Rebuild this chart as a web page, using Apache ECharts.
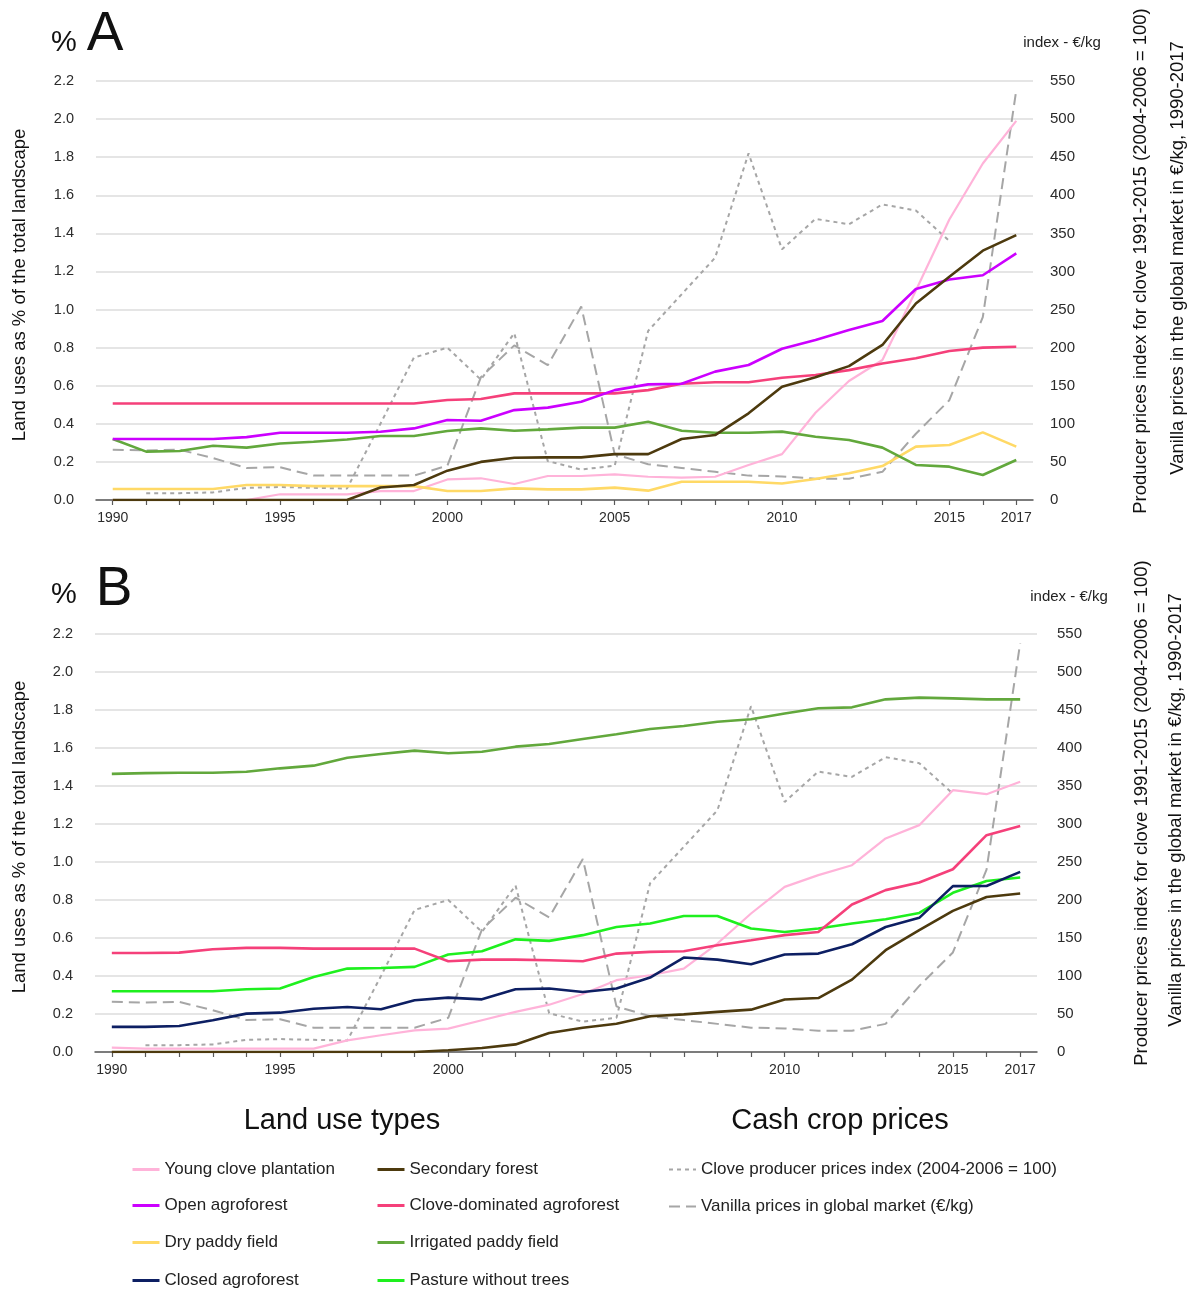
<!DOCTYPE html>
<html>
<head>
<meta charset="utf-8">
<title>Land uses and cash crop prices, 1990-2017</title>
<script src="https://cdn.jsdelivr.net/npm/echarts@6/dist/echarts.min.js"></script>
<style>
  html, body { margin: 0; padding: 0; background: #ffffff; }
  #chart { width: 1193px; height: 1289px; }
</style>
</head>
<body>
<div id="chart"></div>
<script>
// ---------- data ----------
const years = [1990,1991,1992,1993,1994,1995,1996,1997,1998,1999,2000,2001,2002,2003,2004,2005,2006,2007,2008,2009,2010,2011,2012,2013,2014,2015,2016,2017];
const yearLabels = [1990,1995,2000,2005,2010,2015,2017];
const cloveIndexYears = [1991,1992,1993,1994,1995,1996,1997,1998,1999,2000,2001,2002,2003,2004,2005,2006,2007,2008,2009,2010,2011,2012,2013,2014,2015];

// Panel A: land uses, % of the total landscape
const youngCloveA   = [0,0,0,0,0,0.03,0.03,0.03,0.047,0.047,0.108,0.114,0.084,0.126,0.126,0.135,0.122,0.117,0.122,0.184,0.241,0.458,0.625,0.735,1.10,1.473,1.767,1.991];
const openAgroA     = [0.32,0.32,0.32,0.32,0.33,0.353,0.353,0.353,0.358,0.376,0.42,0.416,0.472,0.485,0.516,0.577,0.607,0.61,0.674,0.709,0.794,0.84,0.892,0.94,1.108,1.158,1.18,1.295];
const dryPaddyA     = [0.058,0.058,0.058,0.058,0.079,0.079,0.073,0.073,0.073,0.073,0.047,0.047,0.061,0.056,0.056,0.065,0.049,0.096,0.096,0.096,0.087,0.11,0.14,0.178,0.28,0.289,0.355,0.28];
const secondaryA    = [0,0,0,0,0,0,0,0,0.066,0.079,0.154,0.20,0.222,0.224,0.224,0.241,0.241,0.32,0.341,0.455,0.595,0.644,0.703,0.814,1.032,1.172,1.309,1.391];
const cloveDomA     = [0.507,0.507,0.507,0.507,0.507,0.507,0.507,0.507,0.507,0.507,0.525,0.53,0.56,0.56,0.56,0.56,0.577,0.61,0.618,0.618,0.642,0.656,0.682,0.717,0.744,0.782,0.80,0.805];
const irrigatedA    = [0.32,0.254,0.257,0.285,0.275,0.297,0.306,0.318,0.336,0.336,0.362,0.376,0.364,0.371,0.38,0.38,0.411,0.364,0.353,0.353,0.359,0.332,0.315,0.275,0.184,0.175,0.131,0.21];

// Panel B: land uses, % of the total landscape
const youngCloveB   = [0.023,0.018,0.018,0.018,0.018,0.018,0.018,0.061,0.088,0.114,0.123,0.167,0.211,0.249,0.305,0.378,0.404,0.439,0.571,0.729,0.869,0.931,0.983,1.124,1.194,1.378,1.357,1.422];
const closedAgroB   = [0.132,0.132,0.137,0.167,0.202,0.207,0.228,0.237,0.225,0.272,0.286,0.277,0.33,0.334,0.316,0.334,0.392,0.497,0.486,0.462,0.513,0.518,0.567,0.658,0.706,0.873,0.874,0.948];
const secondaryB    = [0,0,0,0,0,0,0,0,0,0,0.009,0.021,0.04,0.10,0.128,0.149,0.188,0.198,0.211,0.223,0.276,0.284,0.381,0.536,0.641,0.743,0.816,0.834];
const cloveDomB     = [0.521,0.521,0.523,0.541,0.548,0.548,0.544,0.544,0.544,0.544,0.478,0.486,0.486,0.483,0.478,0.518,0.527,0.53,0.562,0.588,0.615,0.632,0.776,0.852,0.892,0.962,1.141,1.189];
const irrigatedB    = [1.464,1.468,1.47,1.47,1.475,1.493,1.507,1.549,1.568,1.586,1.572,1.58,1.607,1.621,1.647,1.672,1.70,1.716,1.738,1.751,1.782,1.809,1.814,1.856,1.865,1.861,1.856,1.856];
const pastureB      = [0.32,0.32,0.32,0.32,0.33,0.334,0.395,0.439,0.442,0.448,0.513,0.53,0.593,0.585,0.615,0.658,0.676,0.716,0.716,0.65,0.632,0.65,0.676,0.699,0.732,0.838,0.90,0.918];

// Cash crop prices (right axis)
const cloveIndex    = [9,9,10,16,17,16,15,100,187,200,158,219,51,40,45,222,270,318,455,329,369,362,388,380,340];
const vanillaPrice  = [66,65,66,55,42,43,32,32,32,32,45,161,203,177,254,60,47,42,37,32,31,28,28,37,87,131,240,538];

const leftTicks = [0,0.2,0.4,0.6,0.8,1.0,1.2,1.4,1.6,1.8,2.0,2.2];
const rightTicks = [0,50,100,150,200,250,300,350,400,450,500,550];

// ---------- styling ----------
const FONT = "'Liberation Sans', Arial, Helvetica, sans-serif";
const CLOVE_NAME = 'Clove producer prices index (2004-2006 = 100)';
const VANILLA_NAME = 'Vanilla prices in global market (€/kg)';
const COLORS = {
  'Young clove plantation': '#ffb3d9',
  'Open agroforest': '#cc00ff',
  'Dry paddy field': '#ffd966',
  'Closed agroforest': '#0d1f63',
  'Secondary forest': '#4d3a0e',
  'Clove-dominated agroforest': '#f5407a',
  'Irrigated paddy field': '#62a83c',
  'Pasture without trees': '#1ef01e',
  [CLOVE_NAME]: '#a6a6a6',
  [VANILLA_NAME]: '#a6a6a6'
};

const pairs = (xs, ys) => xs.map((x, i) => [x, ys[i]]);

function landSeries(name, values, panel, width) {
  return {
    type: 'line', name,
    xAxisIndex: panel, yAxisIndex: panel * 2,
    data: pairs(years, values),
    symbol: 'none', silent: true, z: 3,
    lineStyle: { color: COLORS[name], width: width || 2.6 },
    itemStyle: { color: COLORS[name] }
  };
}
function priceSeries(name, xs, values, panel, dash) {
  return {
    type: 'line', name,
    xAxisIndex: panel, yAxisIndex: panel * 2 + 1,
    data: pairs(xs, values),
    symbol: 'none', silent: true, z: 2,
    lineStyle: { color: COLORS[name], width: 2, type: dash },
    itemStyle: { color: COLORS[name] }
  };
}

function xAxisFor(gridIndex) {
  return {
    type: 'value', gridIndex, min: 1989.5, max: 2017.5,
    splitLine: { show: false },
    axisLine: { show: true, onZero: false, lineStyle: { color: '#595959', width: 1.5 } },
    axisTick: { show: true, length: 5, customValues: years, lineStyle: { color: '#595959', width: 1.2 } },
    axisLabel: { customValues: yearLabels, formatter: v => String(v), color: '#2b2b2b', fontSize: 14, fontFamily: FONT, margin: 11 }
  };
}
function leftAxisFor(gridIndex) {
  return {
    type: 'value', gridIndex, position: 'left', min: leftTicks[0], max: leftTicks[leftTicks.length - 1], interval: 0.2,
    axisLine: { show: false }, axisTick: { show: false },
    splitLine: { show: true, lineStyle: { color: '#dcdcdc', width: 1.5 } },
    axisLabel: { formatter: v => v.toFixed(1), color: '#2b2b2b', fontSize: 14.5, fontFamily: FONT, margin: 22 }
  };
}
function rightAxisFor(gridIndex, margin) {
  return {
    type: 'value', gridIndex, position: 'right', min: rightTicks[0], max: rightTicks[rightTicks.length - 1], interval: 50,
    axisLine: { show: false }, axisTick: { show: false }, splitLine: { show: false },
    axisLabel: { color: '#2b2b2b', fontSize: 15, fontFamily: FONT, margin }
  };
}

// legend layout: column x, row centre y
const legendLayout = [
  ['Young clove plantation', 131, 1170],
  ['Open agroforest', 131, 1206],
  ['Dry paddy field', 131, 1243],
  ['Closed agroforest', 131, 1281],
  ['Secondary forest', 376, 1170],
  ['Clove-dominated agroforest', 376, 1206],
  ['Irrigated paddy field', 376, 1243],
  ['Pasture without trees', 376, 1281],
  [CLOVE_NAME, 668, 1170],
  [VANILLA_NAME, 668, 1207]
];

function textEl(text, x, y, size, opts) {
  opts = opts || {};
  return {
    type: 'text', x, y, rotation: opts.rotation || 0, silent: true,
    style: {
      text, fill: opts.color || '#111', font: size + 'px ' + FONT,
      align: 'center', verticalAlign: 'middle'
    }
  };
}

const dy = 552; // vertical offset of panel B's decorations
const graphics = [
  textEl('%', 64, 43, 29), textEl('A', 105, 35, 55),
  textEl('%', 64, 43 + dy, 29), textEl('B', 114, 590, 55),
  textEl('index - €/kg', 1062, 43, 15, { color: '#222' }),
  textEl('index - €/kg', 1069, 597, 15, { color: '#222' }),
  textEl('Land uses as % of the total landscape', 20, 285, 18.5, { rotation: Math.PI / 2 }),
  textEl('Land uses as % of the total landscape', 20, 285 + dy, 18.5, { rotation: Math.PI / 2 }),
  textEl('Producer prices index for clove 1991-2015 (2004-2006 = 100)', 1141, 261, 18.5, { rotation: Math.PI / 2 }),
  textEl('Vanilla prices in the global market in €/kg, 1990-2017', 1178, 258, 18.5, { rotation: Math.PI / 2 }),
  textEl('Producer prices index for clove 1991-2015 (2004-2006 = 100)', 1142, 261 + dy, 18.5, { rotation: Math.PI / 2 }),
  textEl('Vanilla prices in the global market in €/kg, 1990-2017', 1176, 258 + dy, 18.5, { rotation: Math.PI / 2 }),
  textEl('Land use types', 342, 1121, 29),
  textEl('Cash crop prices', 840, 1121, 29)
];

const option = {
  animation: false,
  backgroundColor: '#ffffff',
  textStyle: { fontFamily: FONT },
  grid: [
    { left: 96, top: 81, width: 937, height: 419, containLabel: false },
    { left: 95, top: 634, width: 942, height: 418, containLabel: false }
  ],
  xAxis: [xAxisFor(0), xAxisFor(1)],
  yAxis: [leftAxisFor(0), rightAxisFor(0, 17), leftAxisFor(1), rightAxisFor(1, 20)],
  legend: legendLayout.map(([name, x, y]) => ({
    data: [name], left: x, top: y - 9, padding: 0,
    itemWidth: 27, itemHeight: 14, itemGap: 0, selectedMode: false,
    itemStyle: { opacity: 0, borderWidth: 0 },
    lineStyle: { width: name === CLOVE_NAME || name === VANILLA_NAME ? 2 : 3 },
    textStyle: { fontSize: 17, color: '#222', fontFamily: FONT }
  })),
  graphic: graphics,
  series: [
    priceSeries(CLOVE_NAME, cloveIndexYears, cloveIndex, 0, [4, 4]),
    priceSeries(VANILLA_NAME, years, vanillaPrice, 0, [11, 6]),
    landSeries('Young clove plantation', youngCloveA, 0, 2.2),
    landSeries('Dry paddy field', dryPaddyA, 0),
    landSeries('Irrigated paddy field', irrigatedA, 0),
    landSeries('Clove-dominated agroforest', cloveDomA, 0),
    landSeries('Open agroforest', openAgroA, 0),
    landSeries('Secondary forest', secondaryA, 0),

    priceSeries(CLOVE_NAME, cloveIndexYears, cloveIndex, 1, [4, 4]),
    priceSeries(VANILLA_NAME, years, vanillaPrice, 1, [11, 6]),
    landSeries('Young clove plantation', youngCloveB, 1, 2.2),
    landSeries('Irrigated paddy field', irrigatedB, 1),
    landSeries('Pasture without trees', pastureB, 1),
    landSeries('Clove-dominated agroforest', cloveDomB, 1),
    landSeries('Closed agroforest', closedAgroB, 1),
    landSeries('Secondary forest', secondaryB, 1)
  ]
};

const chart = echarts.init(document.getElementById('chart'), null, { renderer: 'canvas' });
chart.setOption(option);
</script>
</body>
</html>
